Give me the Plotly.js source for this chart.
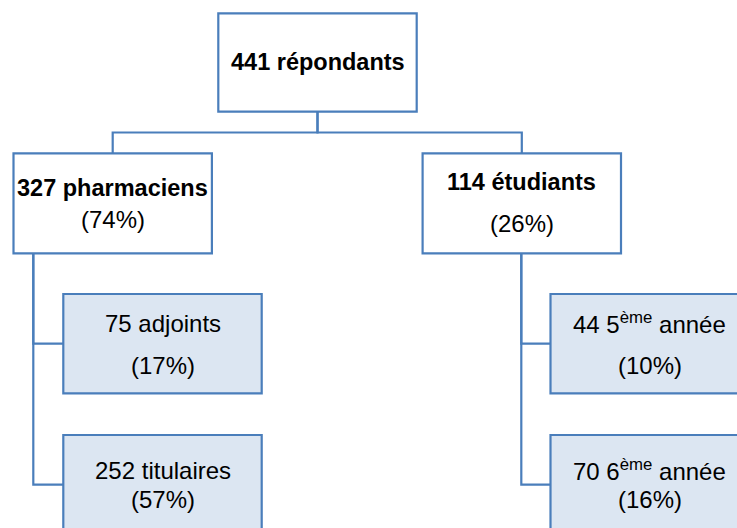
<!DOCTYPE html>
<html>
<head>
<meta charset="utf-8">
<script src="https://cdn.plot.ly/plotly-3.0.1.min.js"></script>
<style>
  html, body { margin: 0; padding: 0; background: #ffffff; }
  #chart { width: 737px; height: 528px; }
</style>
</head>
<body>
<div id="chart"></div>
<script>
// données de l'organigramme des répondants
const nodeCounts = [441, 327, 114, 75, 252, 44, 70];
const nodeNames = ['répondants', 'pharmaciens', 'étudiants', 'adjoints', 'titulaires',
    '5<sup>ème</sup> année', '6<sup>ème</sup> année'];
const nodePercents = [null, 74, 26, 17, 57, 10, 16];
const nodeParents = [-1, 0, 0, 1, 1, 2, 2];

// géométrie (pixels) : centre x, haut, bas de chaque boîte
const boxCx = [317.5, 112.7, 521.8, 162.5, 162.5, 649.7, 649.7];
const boxTop = [13.3, 153.3, 153.3, 294, 435, 294, 435];
const boxBottom = [111.7, 253.3, 253.3, 393.3, 534.3, 393.3, 534.3];
const boxWidth = 198.4;
// position du trait vertical qui descend vers les enfants
const trunkX = [317.5, 33.3, 521.3];
const branchY = 132.5;
// position y des lignes de texte (nom, pourcentage)
const nameY = [62, 188, 182, 323, 470, 323, 470];
const pctY = [null, 219, 223, 365, 499.5, 365, 499.5];

const lineColor = '#4a7ebb';
const leafFill = '#dce6f2';

function drawTree() {
    const shapes = [];
    const annotations = [];
    const cx = [], cy = [];

    nodeCounts.forEach((count, i) => {
        const level = nodeParents[i] === -1 ? 0 : (nodeParents[nodeParents[i]] === -1 ? 1 : 2);
        shapes.push({
            type: 'rect', xref: 'x', yref: 'y',
            x0: boxCx[i] - boxWidth / 2, x1: boxCx[i] + boxWidth / 2,
            y0: boxTop[i], y1: boxBottom[i],
            line: { color: lineColor, width: 2.2 },
            fillcolor: level === 2 ? leafFill : '#ffffff',
            layer: 'above'
        });

        const bold = level < 2;
        annotations.push({
            x: boxCx[i], y: nameY[i], xref: 'x', yref: 'y',
            text: `${count} ${nodeNames[i]}`,
            showarrow: false, xanchor: 'center', yanchor: 'middle',
            font: { size: bold ? 23.5 : 24, color: '#000000', weight: bold ? 'bold' : 'normal' }
        });
        if (nodePercents[i] !== null) {
            annotations.push({
                x: boxCx[i], y: pctY[i], xref: 'x', yref: 'y',
                text: `(${nodePercents[i]}%)`,
                showarrow: false, xanchor: 'center', yanchor: 'middle',
                font: { size: 24, color: '#000000' }
            });
        }

        // connecteurs
        const p = nodeParents[i];
        if (p === -1) return;
        if (level === 1) {
            // racine -> niveau 1 : coude par la barre horizontale
            cx.push(trunkX[p], trunkX[p], boxCx[i], boxCx[i], null);
            cy.push(boxBottom[p], branchY, branchY, boxTop[i], null);
        } else {
            // niveau 1 -> feuilles : tronc vertical puis trait horizontal
            const midY = (boxTop[i] + boxBottom[i]) / 2;
            cx.push(trunkX[p], trunkX[p], boxCx[i] - boxWidth / 2, null);
            cy.push(boxBottom[p], midY, midY, null);
        }
    });

    const trace = {
        x: cx, y: cy,
        type: 'scatter', mode: 'lines',
        line: { color: lineColor, width: 2.2 },
        hoverinfo: 'skip', showlegend: false
    };

    const layout = {
        width: 737, height: 528,
        margin: { l: 0, r: 0, t: 0, b: 0 },
        paper_bgcolor: '#ffffff', plot_bgcolor: '#ffffff',
        font: { family: '"Liberation Sans", Arial, sans-serif', color: '#000000' },
        xaxis: { range: [0, 737], visible: false, fixedrange: true },
        yaxis: { range: [528, 0], visible: false, fixedrange: true },
        shapes: shapes,
        annotations: annotations,
        showlegend: false
    };

    Plotly.newPlot('chart', [trace], layout, { staticPlot: true, displayModeBar: false });
}

drawTree();
</script>
</body>
</html>
